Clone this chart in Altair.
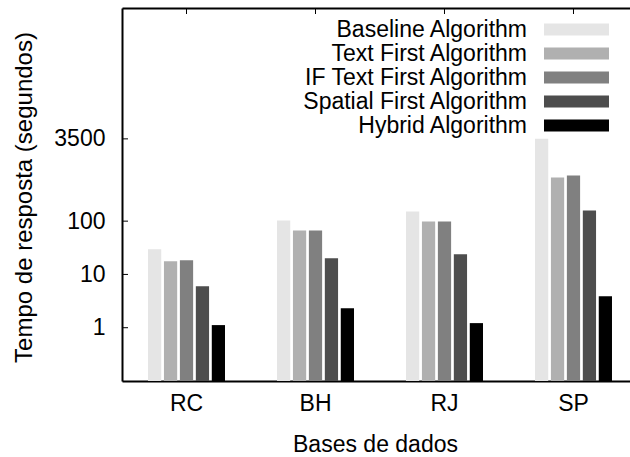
import altair as alt
import pandas as pd

categories = ["RC", "BH", "RJ", "SP"]
series = ["Baseline Algorithm", "Text First Algorithm", "IF Text First Algorithm",
          "Spatial First Algorithm", "Hybrid Algorithm"]
colors = ["#e5e5e5", "#b0b0b0", "#808080", "#4d4d4d", "#000000"]
baseline = [29.6, 103, 152, 3500]
text_first = [17.7, 67, 98.7, 656]
if_text_first = [18.4, 67, 99, 715]
spatial_first = [6.0, 20.1, 23.9, 158]
hybrid = [1.12, 2.33, 1.22, 3.9]
ytick_values = [1, 10, 100, 3500]

values = [baseline, text_first, if_text_first, spatial_first, hybrid]
rows = []
for s, vals in zip(series, values):
    for c, v in zip(categories, vals):
        rows.append({"cat": c, "series": s, "value": v})
df = pd.DataFrame(rows)
cat_df = pd.DataFrame({"cat": categories})
tick_df = pd.DataFrame({"value": ytick_values})

FONT = "Liberation Sans"
W, H = 508, 373

xscale = alt.Scale(domain=categories, range=[0, 516], paddingInner=0.403, paddingOuter=0.2016)
yscale = alt.Scale(type="log", domain=[0.1, 1e6])
yaxis = alt.Axis(values=ytick_values, format="d", ticks=False, grid=False,
                 domainColor="black", domainWidth=2,
                 labelFont=FONT, labelFontSize=23, labelColor="black",
                 labelPadding=17, title="Tempo de resposta (segundos)",
                 titleFont=FONT, titleFontSize=24, titleFontWeight="normal",
                 titleColor="black", titleX=-98, titleY=189,
                 titleBaseline="middle", titleAlign="center", titleAngle=-90)

# legend swatch: a wide flat rectangle placed to the right of its label
swatch = "M2.478,-0.522L8.13,-0.522L8.13,0.522L2.478,0.522Z"

bars = alt.Chart(df).mark_bar(strokeWidth=0).encode(
    x=alt.X("cat:N", sort=categories, scale=xscale,
            axis=alt.Axis(orient="bottom", title="Bases de dados", ticks=False,
                          domainColor="black", domainWidth=2, labelAngle=0,
                          labelFont=FONT, labelFontSize=23, labelColor="black",
                          labelPadding=11, titleFont=FONT, titleFontSize=23,
                          titleFontWeight="normal", titleColor="black",
                          titleX=253, titleY=70, titleBaseline="alphabetic")),
    xOffset=alt.XOffset("series:N", sort=series,
                        scale=alt.Scale(domain=series, paddingInner=0.17, paddingOuter=0)),
    y=alt.Y("value:Q", scale=yscale, stack=None, axis=yaxis),
    color=alt.Color("series:N", sort=series,
                    scale=alt.Scale(domain=series, range=colors),
                    legend=alt.Legend(orient="none", legendX=382, legendY=10, title=None,
                                      symbolType=swatch,
                                      symbolSize=529, symbolStrokeWidth=0, symbolOpacity=1,
                                      labelAlign="right", labelOffset=0,
                                      labelFont=FONT, labelFontSize=23, labelColor="black",
                                      labelLimit=500, rowPadding=0)),
)

top = alt.Chart(cat_df).mark_rule(color="black", strokeWidth=1).encode(
    x=alt.X("cat:N", sort=categories, scale=xscale,
            axis=alt.Axis(orient="top", labels=False, ticks=False, title=None,
                          domainColor="black", domainWidth=2)),
    y=alt.value(0),
    y2=alt.value(6),
)

left_ticks = alt.Chart(tick_df).mark_rule(color="black", strokeWidth=1).encode(
    y=alt.Y("value:Q", scale=yscale, axis=yaxis),
    x=alt.value(0),
    x2=alt.value(6),
)

chart = alt.layer(bars, top, left_ticks).properties(
    width=W, height=H,
    autosize=alt.AutoSizeParams(type="none"),
    padding={"left": 122, "top": 8, "right": 0, "bottom": 76},
).configure_view(stroke=None).configure(background="white")

chart.save("out.html", embed_options={"renderer": "svg", "actions": False})
